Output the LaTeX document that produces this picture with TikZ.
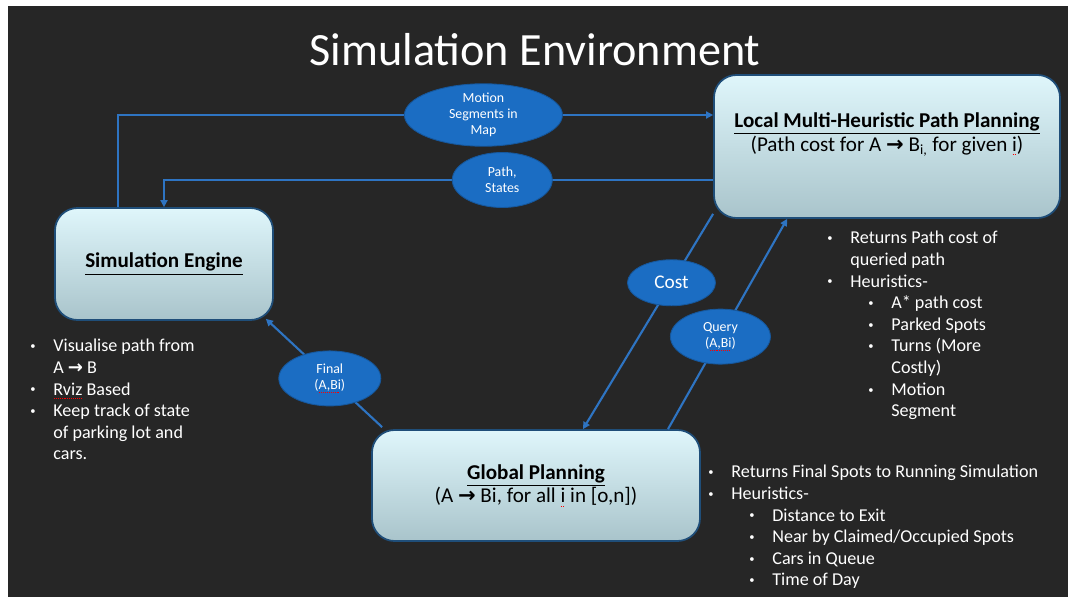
\documentclass[tikz,border=0pt]{standalone}
\usepackage{fontspec}
\setmainfont{Carlito}
\newfontfamily\arrowfont{DejaVu Sans}
\usetikzlibrary{arrows.meta,shapes.geometric,calc}

\definecolor{bgdark}{HTML}{262626}
\definecolor{ovalblue}{HTML}{1B6DC3}
\definecolor{lineblue}{HTML}{2E74C2}
\definecolor{boxedge}{HTML}{1F4E79}
\definecolor{boxtop}{HTML}{DFF6FB}
\definecolor{boxbot}{HTML}{A9C4CB}

\newsavebox{\spellbox}
\newcommand{\ra}{{\arrowfont\bfseries →}}
\newcommand{\spell}[1]{\sbox{\spellbox}{#1}\leavevmode
  \rlap{\textcolor{red}{\raisebox{-2.2pt}{\hbox to \wd\spellbox{%
    \leaders\hbox to 1.1pt{\hss\rule{0.55pt}{0.5pt}\hss}\hfill}}}}\usebox{\spellbox}}
\newcommand{\bdot}{\raisebox{0.12em}{\fontsize{6}{6}\selectfont•}}
\newcommand{\bul}{\makebox[0.46cm][l]{\bdot}}
\newcommand{\subbul}{\hspace*{0.82cm}\makebox[0.46cm][l]{\bdot}}

\begin{document}
\begin{tikzpicture}[>=Stealth,
    box/.style={draw=boxedge, line width=1pt, rounded corners=0.45cm,
                top color=boxtop, bottom color=boxbot,
                align=center, font=\fontsize{12}{13.4}\selectfont},
    oval/.style={ellipse, fill=ovalblue, draw=ovalblue!80!black,
                 line width=0.5pt, inner sep=0pt, text=white, align=center,
                 font=\fontsize{7.9}{9.2}\selectfont},
    conn/.style={-{Triangle[length=4pt,width=4pt]}, line width=1.2pt, lineblue},
    notes/.style={text=white, align=left, inner sep=0pt, anchor=north west,
                  font=\fontsize{10.3}{12.3}\selectfont}]

  %% Slide background
  \useasboundingbox (0,0) rectangle (21.36,11.94);
  \fill[white] (0,0) rectangle (21.36,11.94);
  \fill[bgdark] (0.16,0) rectangle (21.36,11.82);

  \node[text=white, font=\fontsize{26.3}{30}\selectfont] (title) at (10.7,10.94)
    {Simulation Environment};

  %% The three blocks
  \node[box, minimum width=6.92cm, minimum height=2.86cm] (local) at (17.74,9.01) {};
  \node[align=center, font=\fontsize{12}{13.4}\selectfont] (localtxt) at (17.74,9.25)
    {\underline{\textbf{Local Multi-Heuristic Path Planning}}\\
     (Path cost for A \ra{} B\textsubscript{i,} for given \spell{i})};
  \node[box, minimum width=4.36cm, minimum height=2.24cm] (sim) at (3.28,6.66)
    {\underline{\textbf{Simulation Engine}}};
  \node[box, minimum width=6.56cm, minimum height=2.22cm] (glob) at (10.72,2.23)
    {\underline{\textbf{Global Planning}}\\
     (A \ra{} Bi, for all \spell{i} in [o,n])};

  %% Connectors with their labels
  \draw[conn] ([xshift=-0.92cm]sim.north) |-
    node[oval, pos=0.807, minimum width=3.16cm, minimum height=1.0cm] (motion)
    {Motion\\Segments in\\Map} ([yshift=0.63cm]local.west);
  \draw[conn] ([yshift=-0.67cm]local.west) -|
    node[oval, pos=0.192, minimum width=2.0cm, minimum height=1.1cm] (pathst)
    {Path,\\States} (sim.north);
  \draw[conn] ([yshift=0.1cm]local.south west) --
    node[oval, pos=0.32, minimum width=1.76cm, minimum height=0.92cm,
         font=\fontsize{11}{12}\selectfont] (cost)
    {Cost} ([xshift=0.94cm]glob.north);
  \draw[conn] ([xshift=2.64cm]glob.north) --
    node[oval, pos=0.44, minimum width=2.0cm, minimum height=1.1cm] (query)
    {Query\\(\spell{A,Bi})} ([xshift=1.48cm]local.south west);
  \draw[conn] ([shift={(0.22,0.04)}]glob.north west) --
    node[oval, pos=0.45, minimum width=2.04cm, minimum height=1.1cm] (final)
    {Final\\(\spell{A,Bi})} ([shift={(-0.16,0.04)}]sim.south east);

  %% Notes beside each block
  \node[notes] (simnotes) at (0.6,5.16)
    {\bul Visualise path from\\
     \hspace*{0.46cm}A \ra{} B\\
     \bul\spell{Rviz} Based\\
     \bul Keep track of state\\
     \hspace*{0.46cm}of parking lot and\\
     \hspace*{0.46cm}cars.};
  \node[notes] (localnotes) at (16.54,7.32)
    {\bul Returns Path cost of\\
     \hspace*{0.46cm}queried path\\
     \bul Heuristics-\\
     \subbul A* path cost\\
     \subbul Parked Spots\\
     \subbul Turns (More\\
     \hspace*{1.28cm}Costly)\\
     \subbul Motion\\
     \hspace*{1.28cm}Segment};
  \node[notes] (globnotes) at (14.16,2.64)
    {\bul Returns Final Spots to Running Simulation\\
     \bul Heuristics-\\
     \subbul Distance to Exit\\
     \subbul Near by Claimed/Occupied Spots\\
     \subbul Cars in Queue\\
     \subbul Time of Day};
\end{tikzpicture}
\end{document}
